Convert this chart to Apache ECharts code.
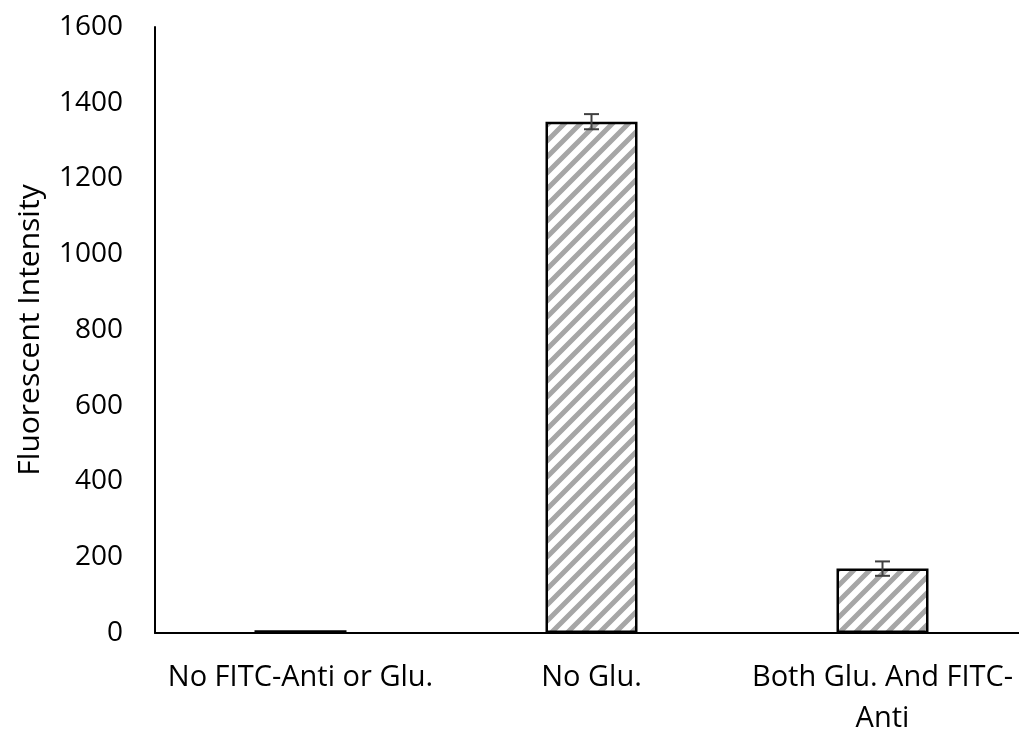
<!DOCTYPE html>
<html>
<head>
<meta charset="utf-8">
<script src="https://cdn.jsdelivr.net/npm/echarts@6/dist/echarts.min.js"></script>
<style>
  html, body { margin: 0; padding: 0; background: #fff; }
  #chart { width: 1019px; height: 730px; }
</style>
</head>
<body>
<div id="chart"></div>
<script>
const categories = ['No FITC-Anti or Glu.', 'No Glu.', 'Both Glu. And FITC-\nAnti']
const values = [7, 1350, 170]
const errors = [0, 20, 19]
const yTicks = { min: 0, max: 1600, interval: 200 }

// diagonal hatch fill
function hatch () {
  const s = 16
  const c = document.createElement('canvas')
  c.width = s
  c.height = s
  const ctx = c.getContext('2d')
  ctx.fillStyle = '#fff'
  ctx.fillRect(0, 0, s, s)
  ctx.strokeStyle = '#a6a6a6'
  ctx.lineWidth = 5
  ctx.beginPath()
  for (let k = -1; k <= 1; k++) {
    ctx.moveTo(-4 + k * s, s + 4); ctx.lineTo(s + 4 + k * s, -4)
  }
  ctx.stroke()
  return c
}

const chart = echarts.init(document.getElementById('chart'))
const font = '"Open Sans", "Liberation Sans", sans-serif'

chart.setOption({
  animation: false,
  grid: { left: 155, right: -9, top: 27, bottom: 97, outerBoundsMode: 'none' },
  xAxis: {
    type: 'category',
    data: categories,
    axisTick: { show: false },
    axisLine: { lineStyle: { color: '#000', width: 2 } },
    axisLabel: { color: '#000', fontSize: 29, fontFamily: font, margin: 24, lineHeight: 41, interval: 0 }
  },
  yAxis: {
    type: 'value',
    min: yTicks.min,
    max: yTicks.max,
    interval: yTicks.interval,
    name: 'Fluorescent Intensity',
    nameLocation: 'middle',
    nameGap: 110,
    nameTextStyle: { color: '#000', fontSize: 30, fontFamily: font },
    axisLine: { show: true, lineStyle: { color: '#000', width: 2 } },
    axisTick: { show: false },
    splitLine: { show: false },
    axisLabel: { color: '#000', fontSize: 28, fontFamily: font, margin: 32, formatter: v => String(v) }
  },
  series: [
    {
      type: 'bar',
      data: values,
      barWidth: 92,
      itemStyle: {
        color: { image: hatch(), repeat: 'repeat' },
        borderColor: '#000',
        borderWidth: 2.5
      }
    },
    {
      type: 'custom',
      data: values.map((v, i) => [i, v - errors[i], v + errors[i]]),
      renderItem (params, api) {
        if (api.value(2) === api.value(1)) return null
        const lo = api.coord([api.value(0), api.value(1)])
        const hi = api.coord([api.value(0), api.value(2)])
        const w = 7.5
        const style = { stroke: '#404040', lineWidth: 2 }
        return {
          type: 'group',
          children: [
            { type: 'line', shape: { x1: lo[0], y1: lo[1], x2: hi[0], y2: hi[1] }, style },
            { type: 'line', shape: { x1: lo[0] - w, y1: lo[1], x2: lo[0] + w, y2: lo[1] }, style },
            { type: 'line', shape: { x1: hi[0] - w, y1: hi[1], x2: hi[0] + w, y2: hi[1] }, style }
          ]
        }
      },
      z: 10
    }
  ]
})
</script>
</body>
</html>
